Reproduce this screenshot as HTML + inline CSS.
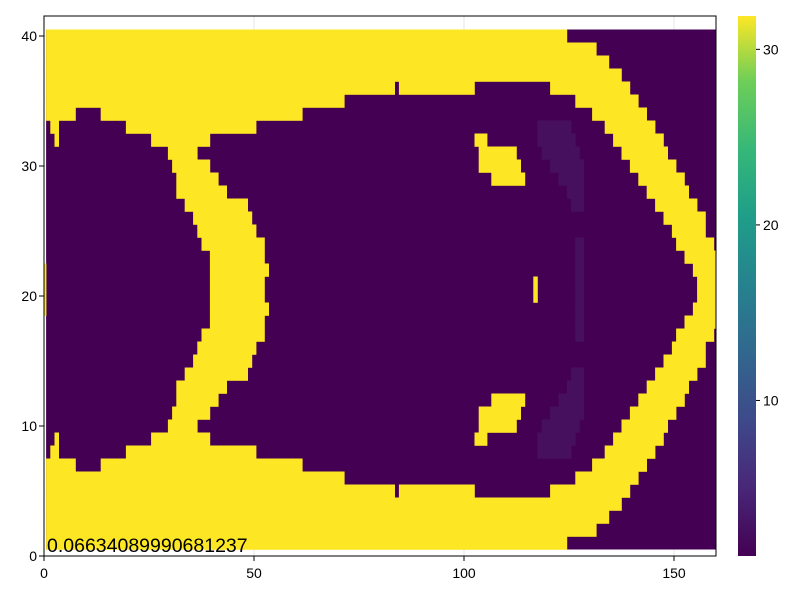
<!DOCTYPE html>
<html><head><meta charset="utf-8"><style>
body{margin:0;background:#fff;font-family:"Liberation Sans",sans-serif}
svg text{font-family:"Liberation Sans",sans-serif}
</style></head><body>
<svg width="800" height="600" xmlns="http://www.w3.org/2000/svg">
<defs>
<clipPath id="pc"><rect x="44" y="16" width="672" height="540"/></clipPath>
<linearGradient id="vir" x1="0" y1="1" x2="0" y2="0">
<stop offset="0" stop-color="#440154"/><stop offset="0.13" stop-color="#482878"/><stop offset="0.25" stop-color="#3e4989"/><stop offset="0.38" stop-color="#31688e"/><stop offset="0.5" stop-color="#26828e"/><stop offset="0.63" stop-color="#1f9e89"/><stop offset="0.75" stop-color="#35b779"/><stop offset="0.88" stop-color="#6ece58"/><stop offset="1" stop-color="#fde725"/>
</linearGradient>
</defs>
<g id="grid"></g>
<g id="cells" clip-path="url(#pc)"></g>
<rect x="44" y="16" width="672" height="540" fill="none" stroke="#000" stroke-width="1"/>
<g id="axes"></g>
<text x="47" y="552" font-size="19.5" fill="#000">0.06634089990681237</text>
<rect x="738" y="16" width="18" height="540" fill="url(#vir)"/>
<g id="cbaxis"></g>
</svg>
<script>
// bottom-half rows 1..20 (mirrored to 40..21): yellow runs [x0,x1]
const rowRuns = [
 [[1,124]],
 [[1,131]],
 [[1,134]],
 [[1,137]],
 [[1,83],[85,102],[121,139]],
 [[1,71],[127,141]],
 [[1,7],[14,61],[131,143]],
 [[2,3],[20,50],[134,145]],
 [[3,3],[26,39],[103,105],[136,147]],
 [[30,36],[104,112],[138,148]],
 [[31,39],[104,113],[140,150]],
 [[32,41],[107,114],[142,152]],
 [[32,43],[144,153]],
 [[34,48],[146,155]],
 [[36,49],[148,157]],
 [[37,50],[150,157]],
 [[38,52],[151,159]],
 [[40,52],[153,160]],
 [[0,0],[40,53],[155,160]],
 [[0,0],[40,52],[117,117],[156,160]]
];
// faint purple runs for rows 1..20
const faintRuns = [[],[],[],[],[],[],[],[[118,125]],[[118,126]],[[119,127]],[[121,128]],[[123,128]],[[125,128]],[[126,128]],[],[],[[127,128]],[[127,128]],[[127,128]],[[127,128]]];
const xTicks=[0,50,100,150];
const yTicks=[0,10,20,30,40];
const cbTicks=[10,20,30];
const cbMin=1.14, cbMax=31.9;
const valHigh=32, valFaint=3.2, valLow=1.14;

const NS="http://www.w3.org/2000/svg";
const X=v=>44+v*4.2, Y=v=>556-v*13, CB=v=>556-(v-cbMin)/(cbMax-cbMin)*540;
function col(v){return v>=30?"#fde725":(v>2?"#47105e":"#440154");}
function mk(t,a,p){const e=document.createElementNS(NS,t);for(const k in a)e.setAttribute(k,a[k]);p.appendChild(e);return e;}
const cells=document.getElementById('cells');
const bg=mk('rect',{x:X(0.5),y:Y(40.5),width:X(160.5)-X(0.5),height:Y(0.5)-Y(40.5),fill:col(valLow)},cells);


function drawRuns(runs,val,name){
 runs.forEach((rr,i)=>{const r=i+1;[r,41-r].forEach(row=>{rr.forEach(([a,b])=>{
  const e=mk('rect',{x:X(a-0.5),y:Y(row+0.5),width:X(b+0.5)-X(a-0.5)+0.3,height:13.3,fill:col(val)},cells);
  
  
 });});});
}
drawRuns(faintRuns,valFaint,'faint-cell');
drawRuns(rowRuns,valHigh,'high-cell');
const grid=document.getElementById('grid'),axes=document.getElementById('axes');
xTicks.forEach(t=>{
 const g=mk('line',{x1:X(t),x2:X(t),y1:16,y2:556,stroke:'#e6e6e6'},grid);
 
 
 const tk=mk('line',{x1:X(t),x2:X(t),y1:556,y2:561,stroke:'#000'},axes);
 
 
 const l=mk('text',{x:X(t),y:578,'font-size':14,'text-anchor':'middle'},axes);l.textContent=t;
 
 
});
yTicks.forEach(t=>{
 const g=mk('line',{x1:44,x2:716,y1:Y(t),y2:Y(t),stroke:'#e6e6e6'},grid);
 
 
 const tk=mk('line',{x1:39,x2:44,y1:Y(t),y2:Y(t),stroke:'#000'},axes);
 
 
 const l=mk('text',{x:37,y:Y(t)+5,'font-size':14,'text-anchor':'end'},axes);l.textContent=t;
 
 
});
const cb=document.getElementById('cbaxis');
cbTicks.forEach(t=>{
 const tk=mk('line',{x1:756,x2:760,y1:CB(t),y2:CB(t),stroke:'#000'},cb);
 
 
 const l=mk('text',{x:763,y:CB(t)+5,'font-size':14},cb);l.textContent=t;
 
 
});
</script>
</body></html>
